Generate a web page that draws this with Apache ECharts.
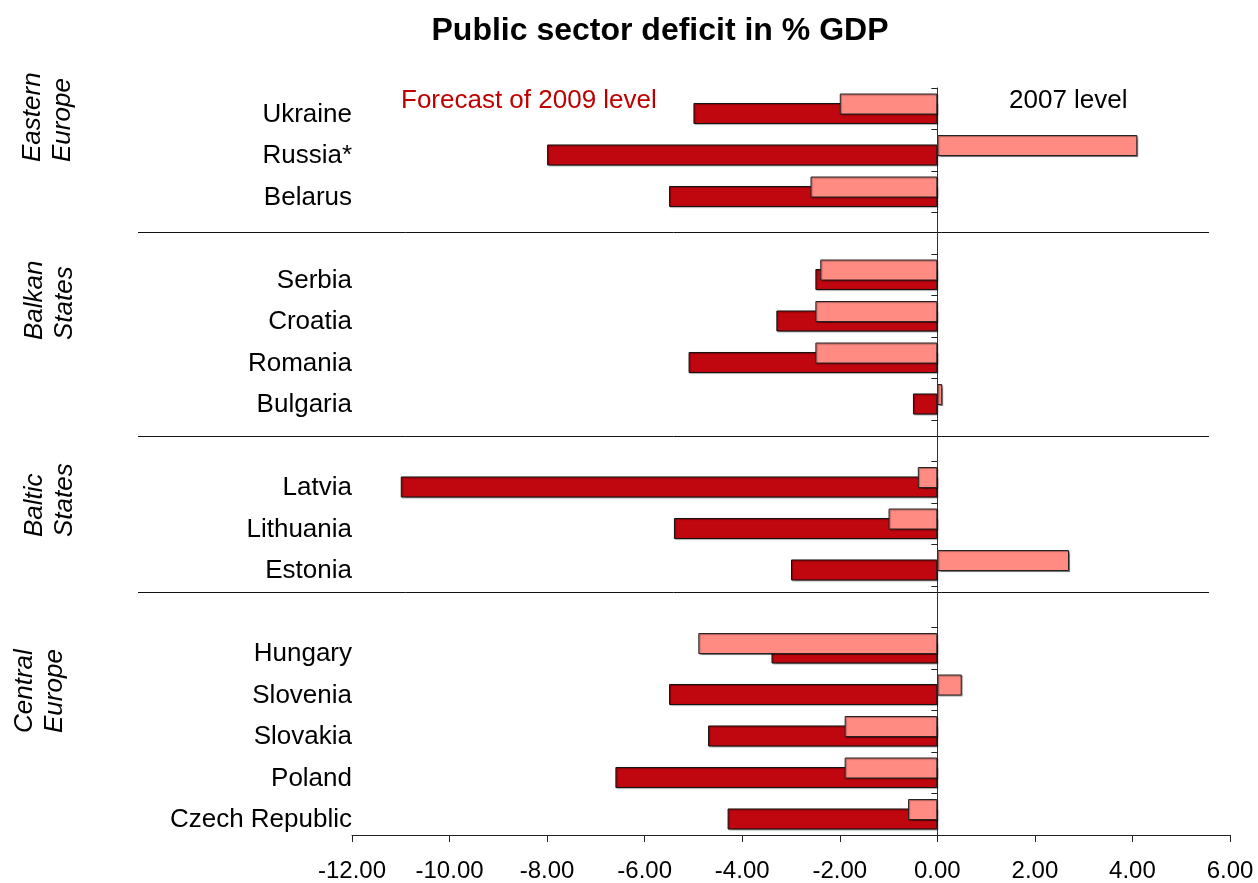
<!DOCTYPE html>
<html>
<head>
<meta charset="utf-8">
<script src="https://cdn.jsdelivr.net/npm/echarts@6/dist/echarts.min.js"></script>
<style>
  html, body { margin: 0; padding: 0; background: #fff; }
  #chart { width: 1258px; height: 883px; }
</style>
</head>
<body>
<div id="chart"></div>
<script>
// Countries top to bottom; blank entries leave a gap between regional groups
const categories = [
  'Ukraine', 'Russia*', 'Belarus', '',
  'Serbia', 'Croatia', 'Romania', 'Bulgaria', ' ',
  'Latvia', 'Lithuania', 'Estonia', '  ',
  'Hungary', 'Slovenia', 'Slovakia', 'Poland', 'Czech Republic'
];

// Public sector balance, % of GDP
const level2007 = [
  -2.0, 4.1, -2.6, null,
  -2.4, -2.5, -2.5, 0.1, null,
  -0.4, -1.0, 2.7, null,
  -4.9, 0.5, -1.9, -1.9, -0.6
];
const forecast2009 = [
  -5.0, -8.0, -5.5, null,
  -2.5, -3.3, -5.1, -0.5, null,
  -11.0, -5.4, -3.0, null,
  -3.4, -5.5, -4.7, -6.6, -4.3
];

// Regional group captions
const groupNames = ['Eastern\nEurope', 'Balkan\nStates', 'Baltic\nStates', 'Central\nEurope'];

// Value axis ticks
const xMin = -12;
const xMax = 6;
const xStep = 2;

const FONT = "'Liberation Sans', Arial, Helvetica, sans-serif";
const DARK_RED = '#C0060E';
const PINK = '#FF8B83';

const chart = echarts.init(document.getElementById('chart'), null, { renderer: 'canvas' });

// Caption anchors (start of the rotated text) and separator rows
const groupAnchors = [[48, 162], [50, 340], [50, 537], [40, 733]];
const separatorY = [232.5, 436.5, 592.5];

const graphics = [];
groupNames.forEach((name, i) => {
  graphics.push({
    type: 'text',
    x: groupAnchors[i][0],
    y: groupAnchors[i][1],
    rotation: Math.PI / 2,
    silent: true,
    style: {
      text: name,
      fontSize: 26,
      fontStyle: 'italic',
      fontFamily: FONT,
      fill: '#000',
      align: 'left',
      textAlign: 'left',
      verticalAlign: 'middle',
      textVerticalAlign: 'middle',
      lineHeight: 30
    }
  });
});
separatorY.forEach(y => {
  graphics.push({
    type: 'line',
    silent: true,
    shape: { x1: 138, y1: y, x2: 1209, y2: y },
    style: { stroke: '#111', lineWidth: 1 }
  });
});
graphics.push({
  type: 'text', x: 401, y: 101, silent: true,
  style: {
    text: 'Forecast of 2009 level', fontSize: 26, fontFamily: FONT, fill: '#C00000',
    align: 'left', textAlign: 'left', verticalAlign: 'middle', textVerticalAlign: 'middle'
  }
});
graphics.push({
  type: 'text', x: 1009, y: 101, silent: true,
  style: {
    text: '2007 level', fontSize: 26, fontFamily: FONT, fill: '#000',
    align: 'left', textAlign: 'left', verticalAlign: 'middle', textVerticalAlign: 'middle'
  }
});

const barShadow = {
  shadowColor: 'rgba(0,0,0,0.35)',
  shadowBlur: 1,
  shadowOffsetX: 1,
  shadowOffsetY: 1
};

chart.setOption({
  animation: false,
  backgroundColor: '#fff',
  title: {
    text: 'Public sector deficit in % GDP',
    left: 660,
    top: 15,
    textAlign: 'center',
    padding: 0,
    textStyle: { fontSize: 32, fontWeight: 'bold', color: '#000', fontFamily: FONT }
  },
  grid: { left: 352, right: 28, top: 88, bottom: 48, containLabel: false },
  xAxis: {
    type: 'value',
    min: xMin,
    max: xMax,
    interval: xStep,
    position: 'bottom',
    axisLine: { show: true, onZero: false, lineStyle: { color: '#222', width: 1 } },
    axisTick: { show: true, length: 7, lineStyle: { color: '#222' } },
    splitLine: { show: false },
    axisLabel: {
      formatter: v => v.toFixed(2),
      fontSize: 24,
      fontFamily: FONT,
      color: '#000',
      margin: 24,
      showMinLabel: true,
      showMaxLabel: true
    }
  },
  yAxis: [
    {
      // axis line drawn through zero, ticks between rows
      type: 'category',
      data: categories,
      inverse: true,
      position: 'left',
      axisLine: { show: true, onZero: true, lineStyle: { color: '#333', width: 1 } },
      axisTick: { show: true, length: 6, alignWithLabel: false, lineStyle: { color: '#222' } },
      axisLabel: { show: false },
      splitLine: { show: false }
    },
    {
      // country names along the left edge of the plot
      type: 'category',
      data: categories,
      inverse: true,
      position: 'left',
      axisLine: { show: false, onZero: false },
      axisTick: { show: false },
      splitLine: { show: false },
      axisLabel: {
        fontSize: 26,
        fontFamily: FONT,
        color: '#000',
        margin: 0,
        verticalAlign: 'top',
        lineHeight: 12,
        interval: 0
      }
    }
  ],
  series: [
    {
      name: '2007 level',
      type: 'bar',
      yAxisIndex: 0,
      data: level2007,
      barWidth: 21,
      barGap: '-55%',
      z: 3,
      itemStyle: Object.assign({ color: PINK, borderColor: '#222', borderWidth: 1 }, barShadow)
    },
    {
      name: 'Forecast of 2009 level',
      type: 'bar',
      yAxisIndex: 0,
      data: forecast2009,
      barWidth: 21,
      barGap: '-55%',
      z: 2,
      itemStyle: Object.assign({ color: DARK_RED, borderColor: '#111', borderWidth: 1 }, barShadow)
    }
  ],
  graphic: graphics
});
</script>
</body>
</html>
